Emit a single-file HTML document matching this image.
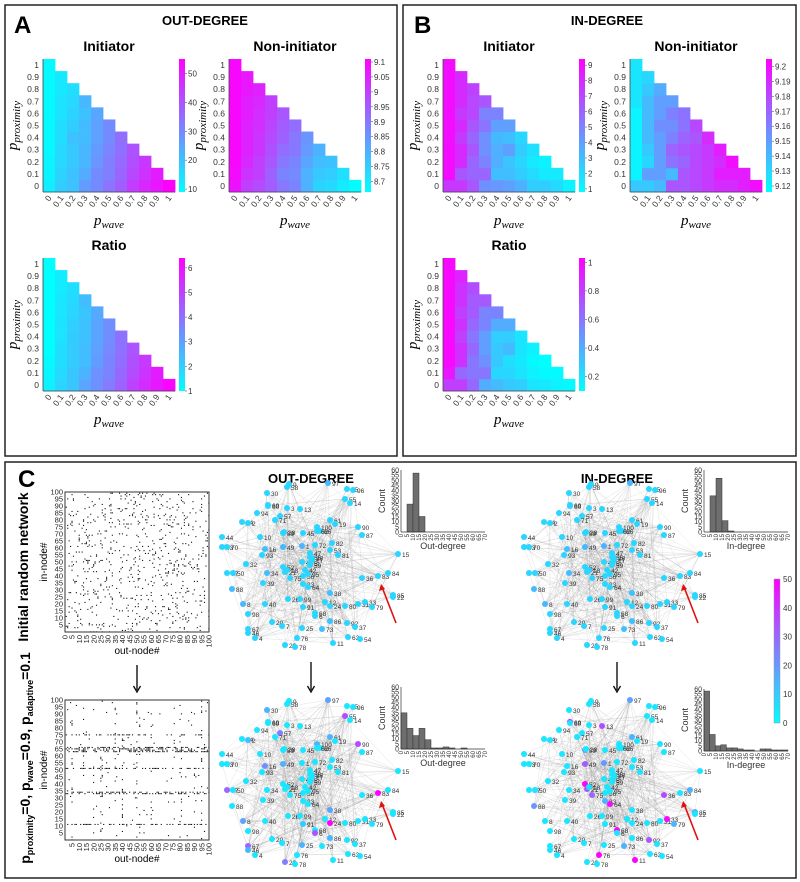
<!DOCTYPE html>
<html><head><meta charset="utf-8"><style>
body{margin:0;background:#fff}
svg{display:block;font-family:"Liberation Sans",sans-serif}
</style></head><body>
<svg id="fig" width="800" height="882" viewBox="0 0 800 882">
<rect x="5" y="5" width="392" height="451" fill="none" stroke="#222" stroke-width="1.5"/>
<rect x="403" y="5" width="393" height="451" fill="none" stroke="#222" stroke-width="1.5"/>
<rect x="5" y="462" width="791" height="416" fill="none" stroke="#222" stroke-width="1.5"/>
<text x="14" y="33" font-size="24" font-weight="bold">A</text>
<text x="205" y="25" font-size="13" font-weight="bold" text-anchor="middle">OUT-DEGREE</text>
<text x="414" y="33" font-size="24" font-weight="bold">B</text>
<text x="607" y="25" font-size="13" font-weight="bold" text-anchor="middle">IN-DEGREE</text>
<text x="18" y="487" font-size="24" font-weight="bold">C</text>
<text x="311" y="483" font-size="13" font-weight="bold" text-anchor="middle">OUT-DEGREE</text>
<text x="617" y="483" font-size="13" font-weight="bold" text-anchor="middle">IN-DEGREE</text>
<text transform="translate(28,567) rotate(-90)" font-size="14" font-weight="bold" text-anchor="middle">Initial random network</text>
<text transform="translate(30,758) rotate(-90)" font-size="14" font-weight="bold" text-anchor="middle">p<tspan font-size="9" dy="3">proximity</tspan><tspan dy="-3">=0,  p</tspan><tspan font-size="9" dy="3">wave</tspan><tspan dy="-3">=0.9,  p</tspan><tspan font-size="9" dy="3">adaptive</tspan><tspan dy="-3">=0.1</tspan></text>
<g id="layer"></g>
</svg>
<script>
// ---------- heatmap data (columns = p_wave 0..1, values from p_proximity 0 upward) ----------
const pTicks = ["0","0.1","0.2","0.3","0.4","0.5","0.6","0.7","0.8","0.9","1"];
const outInit = [[12,11,11,10,10,10,10,10,10,10,10],[18,17,16,16,15,15,14,14,13,13],[20,20,19,19,20,18,17,16,15],[27,24,22,22,21,21,20,22],[30,30,28,27,26,26,25],[34,32,32,31,30,30],[38,37,36,35,35],[44,42,41,40],[48,46,45],[51,50],[55]];
const outNon = [[9.08,9.09,9.1,9.1,9.1,9.1,9.1,9.1,9.1,9.1,9.1],[9.0,9.02,9.04,9.05,9.05,9.05,9.06,9.06,9.07,9.07],[8.98,9.0,9.0,9.02,9.02,9.03,9.03,9.04,9.05],[8.95,8.94,8.96,8.97,8.98,8.99,9.0,9.0],[8.9,8.88,8.9,8.92,8.94,8.95,8.96],[8.88,8.87,8.88,8.9,8.9,8.92],[8.8,8.8,8.82,8.84,8.85],[8.74,8.76,8.78,8.8],[8.73,8.75,8.77],[8.7,8.72],[8.67]];
const outRatio = [[1.3,1.2,1.1,1,1,1,1,1,1,1,1],[1.9,1.8,1.7,1.7,1.6,1.6,1.5,1.5,1.4,1.4],[2.2,2.2,2.1,2.1,2.1,2,1.9,1.8,1.7],[2.9,2.6,2.4,2.4,2.3,2.3,2.2,2.4],[3.3,3.3,3.1,3,2.9,2.9,2.8],[3.8,3.6,3.6,3.5,3.4,3.4],[4.3,4.2,4.1,4,4],[5,4.8,4.7,4.6],[5.5,5.3,5.2],[5.9,5.8],[6.3]];
const inInit = [[7.5,9,9,9,9,9,9,9,9,9,9],[7.5,6.5,8,8,7.5,8,7.5,8,8,8],[6.5,6,6,6.5,6,6.5,7,7,7.2],[4.5,6,5,4.5,4.5,5.5,5,6.5],[4.3,3,3.5,3.5,3.2,4,5],[4,3,2.8,4,3,4],[3.5,2.5,2.2,2.5,2.2],[2.5,2,1.5,1.8],[2.5,1.5,1.2],[2,1.5],[1.2]];
const inNon = [[9.135,9.12,9.12,9.12,9.12,9.12,9.12,9.125,9.125,9.125,9.125],[9.135,9.15,9.13,9.135,9.14,9.14,9.14,9.14,9.135,9.13],[9.14,9.15,9.15,9.15,9.15,9.155,9.15,9.15,9.145],[9.175,9.14,9.165,9.17,9.16,9.155,9.16,9.15],[9.175,9.175,9.17,9.175,9.17,9.165,9.165],[9.18,9.18,9.18,9.18,9.175,9.18],[9.185,9.185,9.185,9.185,9.19],[9.19,9.195,9.19,9.195],[9.19,9.195,9.2],[9.195,9.195],[9.2]];
const inRatio = [[0.8,0.95,1,1,1,1,1,1,1,1,1],[0.8,0.65,0.85,0.85,0.8,0.85,0.8,0.85,0.85,0.9],[0.65,0.6,0.6,0.65,0.6,0.65,0.7,0.7,0.75],[0.4,0.6,0.5,0.45,0.45,0.55,0.55,0.7],[0.35,0.25,0.3,0.3,0.28,0.4,0.55],[0.3,0.25,0.22,0.35,0.28,0.4],[0.28,0.2,0.18,0.2,0.2],[0.2,0.15,0.12,0.15],[0.18,0.12,0.1],[0.15,0.12],[0.12]];
const cbOutInit=[10,20,30,40,50], cbOutNon=[8.7,8.75,8.8,8.85,8.9,8.95,9,9.05,9.1], cbOutRatio=[1,2,3,4,5,6];
const cbInInit=[1,2,3,4,5,6,7,8,9], cbInNon=[9.12,9.13,9.14,9.15,9.16,9.17,9.18,9.19,9.2], cbInRatio=[0.2,0.4,0.6,0.8,1];
// ---------- histogram data ----------
const histOutTop=[0,27,57,15,0,0,0,0,0,0,0,0,0,0];
const histInTop=[0,35,52,11,1,0,0,0,0,0,0,0,0,0];
const histOutBot=[35,20,13,20,9,1,1,2,1,0,1,0,0,0];
const histInBot=[58,16,5,6,3,3,2,1,1,0,2,2,1,1,1];
const histTicks=[0,5,10,15,20,25,30,35,40,45,50,55,60];
const degTicks=[0,5,10,15,20,25,30,35,40,45,50,55,60,65,70];
// ---------- network data ----------
const nodeIds=[9,58,97,35,96,30,55,14,69,3,13,94,57,71,74,2,61,19,100,66,90,87,10,89,45,44,43,16,49,1,72,82,53,93,47,65,81,32,48,52,21,34,42,77,50,56,75,36,83,84,39,23,64,88,38,26,12,24,80,31,33,79,8,40,91,68,6,86,92,37,20,7,25,73,67,46,4,63,54,76,29,78,11,15,85,5,17,18,22,27,28,59,60,62,70,95,98,99];
const nodeX=[289,287,328,347,353,267,345,350,268,287,300,257,280,275,242,248,330,335,317,320,358,362,260,283,303,222,222,265,283,302,315,332,330,262,310,310,338,246,302,283,285,267,305,227,233,303,290,362,378,388,263,303,308,232,330,288,325,330,345,358,365,372,243,265,303,315,315,330,347,355,272,282,302,322,248,248,255,348,360,297,285,295,333,398,393,310,312,287,393,312,284,310,268,317,227,308,248,300];
const nodeY=[484,487,483,489,490,493,499,503,505,508,509,513,516,520,522,523,520,524,527,531,527,535,537,533,533,537,547,549,547,546,545,543,550,555,553,557,555,564,562,567,572,573,570,573,573,576,578,578,576,573,583,584,587,589,593,599,602,606,606,604,602,607,604,604,607,613,616,621,623,627,622,626,628,629,629,633,638,637,639,638,645,647,643,554,595,563,560,570,597,558,532,565,506,531,547,574,614,599];
const hubOut={83:50,24:50,55:35,90:35,6:33,77:30,67:30,29:25,57:25,16:22,97:18,30:15,49:15,38:18,8:18,25:15,86:14,61:15,2:12,100:15,46:14,91:10};
const hubIn={69:50,52:50,64:48,68:48,76:50,11:50,33:48,13:35,49:32,21:33,75:30,36:35,92:33,97:18,1:20,73:15,88:20,61:15,89:18,23:15,79:15,84:15,85:15};
const topVals={97:14,49:14,1:15,88:13,16:12,8:14,38:12,86:12,34:13,73:12};

const NS="http://www.w3.org/2000/svg";
const layer=document.getElementById('layer');
function mk(tag,attrs,parent){const e=document.createElementNS(NS,tag);for(const k in attrs)e.setAttribute(k,attrs[k]);(parent||layer).appendChild(e);return e;}
function cool(t){t=Math.max(0,Math.min(1,t));return `rgb(${Math.round(255*t)},${Math.round(255*(1-t))},255)`;}
const defs=mk('defs',{});
const lg=mk('linearGradient',{id:'coolg',x1:0,y1:1,x2:0,y2:0},defs);
mk('stop',{offset:'0','stop-color':'#00ffff'},lg);mk('stop',{offset:'1','stop-color':'#ff00ff'},lg);

function heat(name,title,x0,y0,cols,vmin,vmax,cb){
  const w=132,h=133,cw=w/11,ch=h/11;
  const g=mk('g',{});
  
  
  const t=mk('text',{x:x0+w/2,y:y0-8,'font-size':14,'font-weight':'bold','text-anchor':'middle'},g);t.textContent=title;
  
  
  cols.forEach((col,i)=>col.forEach((v,j)=>{
    const r=mk('rect',{x:x0+i*cw,y:y0+h-(j+1)*ch,width:cw+0.4,height:ch+0.4,fill:cool((v-vmin)/(vmax-vmin))},g);
    
    
  }));
  mk('line',{x1:x0,y1:y0,x2:x0,y2:y0+h,stroke:'#444','stroke-width':0.8},g);
  mk('line',{x1:x0,y1:y0+h,x2:x0+w,y2:y0+h,stroke:'#444','stroke-width':0.8},g);
  pTicks.forEach((lab,j)=>{
    const yt=mk('text',{x:x0-4,y:y0+h-(j+0.5)*ch+3,'font-size':8.5,'text-anchor':'end',fill:'#333'},g);yt.textContent=lab;
    const cx=x0+(j+0.5)*cw, cy=y0+h+6;
    const xt=mk('text',{transform:`translate(${cx+3},${cy}) rotate(-55)`,'font-size':8.5,'text-anchor':'end',fill:'#333'},g);xt.textContent=lab;
  });
  const xl=mk('text',{x:x0+w/2,y:y0+h+33,'font-size':15,'font-style':'italic','font-family':'Liberation Serif,serif','text-anchor':'middle'},g);
  xl.innerHTML='p<tspan font-size="11" dy="3">wave</tspan>';
  
  
  const yl=mk('text',{transform:`translate(${x0-26},${y0+h/2}) rotate(-90)`,'font-size':15,'font-style':'italic','font-family':'Liberation Serif,serif','text-anchor':'middle'},g);
  yl.innerHTML='p<tspan font-size="11" dy="3">proximity</tspan>';
  
  
  const bx=x0+w+4;
  const cbr=mk('rect',{x:bx,y:y0,width:6,height:h,fill:'url(#coolg)'},g);
  
  
  cb.forEach(v=>{const yy=y0+h-(v-vmin)/(vmax-vmin)*h;
    mk('line',{x1:bx+6,y1:yy,x2:bx+8,y2:yy,stroke:'#555','stroke-width':0.6},g);
    const tt=mk('text',{x:bx+9,y:yy+3,'font-size':8,fill:'#333'},g);tt.textContent=String(v);});
}
heat('a-initiator-heatmap','Initiator',43,59,outInit,9,55,cbOutInit);
heat('a-noninitiator-heatmap','Non-initiator',229,59,outNon,8.665,9.11,cbOutNon);
heat('a-ratio-heatmap','Ratio',43,258,outRatio,1,6.4,cbOutRatio);
heat('b-initiator-heatmap','Initiator',443,59,inInit,0.8,9.4,cbInInit);
heat('b-noninitiator-heatmap','Non-initiator',630,59,inNon,9.116,9.205,cbInNon);
heat('b-ratio-heatmap','Ratio',443,258,inRatio,0.1,1.03,cbInRatio);

// ---------- adjacency matrices ----------
function hsh(a,b){let x=(a*374761393+b*668265263)>>>0;x=(x^(x>>>13))*1274126177>>>0;return ((x^(x>>>16))>>>0)/4294967296;}
const hotRows=[12,34,35,52,64,65,66,67,76];
const hotCols=[5,13,20,25,26,35,40,50,52,60,76,80,81,90,95];
function matrix(name,x0,y0,structured){
  const w=144,h=140;const g=mk('g',{});
  
  
  for(let i=1;i<=100;i++)for(let j=1;j<=100;j++){
    let p;
    if(!structured)p=0.075;
    else{p=0.008;if(hotRows.includes(j))p=0.4;if(hotCols.includes(i))p+=0.1;}
    if(hsh(i+(structured?500:0),j)<p) mk('rect',{x:x0+(i-0.5)/100*w,y:y0+h-(j-0.5)/100*h,width:1.1,height:1.1,fill:'#111'},g);
  }
  mk('rect',{x:x0,y:y0,width:w,height:h,fill:'none',stroke:'#333','stroke-width':1},g);
  for(let v=5;v<=100;v+=5){
    const yy=y0+h-v/100*h;const t=mk('text',{x:x0-2,y:yy+2.5,'font-size':7.5,'text-anchor':'end',fill:'#222'},g);t.textContent=v;
    const xx=x0+v/100*w;const t2=mk('text',{transform:`translate(${xx+2.5},${y0+h+3}) rotate(-90)`,'font-size':7.5,'text-anchor':'end',fill:'#222'},g);t2.textContent=v;
  }
  if(!structured){const t0=mk('text',{transform:`translate(${x0+2.5},${y0+h+3}) rotate(-90)`,'font-size':7.5,'text-anchor':'end',fill:'#222'},g);t0.textContent='0';}
  const xl=mk('text',{x:x0+w/2,y:y0+h+22,'font-size':10,'text-anchor':'middle'},g);xl.textContent='out-node#';
  const yl=mk('text',{transform:`translate(${x0-18},${y0+h/2}) rotate(-90)`,'font-size':10,'text-anchor':'middle'},g);yl.textContent='in-node#';
}
matrix('adjacency-matrix-initial',65,492,false);
matrix('adjacency-matrix-adaptive',65,700,true);

// ---------- networks ----------
function network(name,dx,dy,vals,def,dense){
  const g=mk('g',{});
  
  
  const N=nodeIds.length;const eg=mk('g',{stroke:'#888','stroke-width':0.4,'stroke-opacity':0.3},g);
  for(let i=0;i<N;i++)for(let k=1;k<=5;k++){
    let j=(i*7+k*13+k*k)%N; if(dense && k>3){const hubs=Object.keys(vals).map(Number);const id=hubs[(i+k)%hubs.length];j=nodeIds.indexOf(id);if(j<0)continue;}
    mk('line',{x1:nodeX[i]+dx,y1:nodeY[i]+dy,x2:nodeX[j]+dx,y2:nodeY[j]+dy},eg);
  }
  nodeIds.forEach((id,i)=>{
    const v=(vals[id]!==undefined)?vals[id]:def;
    const c=mk('circle',{cx:nodeX[i]+dx,cy:nodeY[i]+dy,r:3,fill:cool(v/50)},g);
    
    
    const t=mk('text',{x:nodeX[i]+dx+4,y:nodeY[i]+dy+3,'font-size':6.5,fill:'#333'},g);t.textContent=id;
  });
  const a=mk('g',{},g);
  
  
  mk('line',{x1:396+dx,y1:623+dy,x2:382+dx,y2:587+dy,stroke:'#e01010','stroke-width':1.6},a);
  mk('path',{d:`M${381+dx},${584+dy} l-2,7 l6,-2 z`,fill:'#e01010'},a);
}
network('network-out-initial',0,0,topVals,8,false);
network('network-in-initial',302,0,topVals,8,false);
network('network-out-adaptive',0,217,hubOut,5,true);
network('network-in-adaptive',302,217,hubIn,5,true);

// arrows between rows
[[137,665,692],[311,662,692],[617,662,692]].forEach(([x,y1,y2])=>{
  const a=mk('g',{});
  
  
  mk('line',{x1:x,y1:y1,x2:x,y2:y2-2,stroke:'#111','stroke-width':1.4},a);
  mk('path',{d:`M${x-3.5},${y2-6} L${x},${y2} L${x+3.5},${y2-6}`,fill:'none',stroke:'#111','stroke-width':1.4},a);
});

// ---------- histograms ----------
function hist(name,x0,y0,counts,xlab){
  const w=84,h=62;const g=mk('g',{});
  
  
  const bw=w/counts.length;
  counts.forEach((c,i)=>{if(c<=0)return;const bh=c/60*h;
    const r=mk('rect',{x:x0+i*bw,y:y0+h-bh,width:bw,height:bh,fill:'#6e6e6e',stroke:'#333','stroke-width':0.5},g);
    
    });
  mk('line',{x1:x0,y1:y0,x2:x0,y2:y0+h,stroke:'#333','stroke-width':0.7},g);
  mk('line',{x1:x0,y1:y0+h,x2:x0+w,y2:y0+h,stroke:'#333','stroke-width':0.7},g);
  histTicks.forEach(v=>{const t=mk('text',{x:x0-2,y:y0+h-v/60*h+2.5,'font-size':7,'text-anchor':'end',fill:'#333'},g);t.textContent=v;});
  degTicks.forEach((v,i)=>{const xx=x0+i*(w/(degTicks.length-1));const t=mk('text',{transform:`translate(${xx+2},${y0+h+2}) rotate(-90)`,'font-size':6,'text-anchor':'end',fill:'#333'},g);t.textContent=v;});
  const yl=mk('text',{transform:`translate(${x0-16},${y0+h/2}) rotate(-90)`,'font-size':9,'text-anchor':'middle',fill:'#333'},g);yl.textContent='Count';
  const xl=mk('text',{x:x0+w/2,y:y0+h+17,'font-size':9,'text-anchor':'middle',fill:'#333'},g);xl.textContent=xlab;
}
hist('hist-out-initial',401,470,histOutTop,'Out-degree');
hist('hist-in-initial',704,470,histInTop,'In-degree');
hist('hist-out-adaptive',401,687,histOutBot,'Out-degree');
hist('hist-in-adaptive',704,689,histInBot,'In-degree');

// ---------- C colorbar ----------
const cbC=[0,10,20,30,40,50];
(function(){const g=mk('g',{});
  
  
  mk('rect',{x:774,y:579,width:6,height:144,fill:'url(#coolg)',stroke:'#999','stroke-width':0.5},g);
  cbC.forEach(v=>{const yy=723-v/50*144;const t=mk('text',{x:783,y:yy+3,'font-size':8,fill:'#333'},g);t.textContent=v;});
})();
</script>
</body></html>
